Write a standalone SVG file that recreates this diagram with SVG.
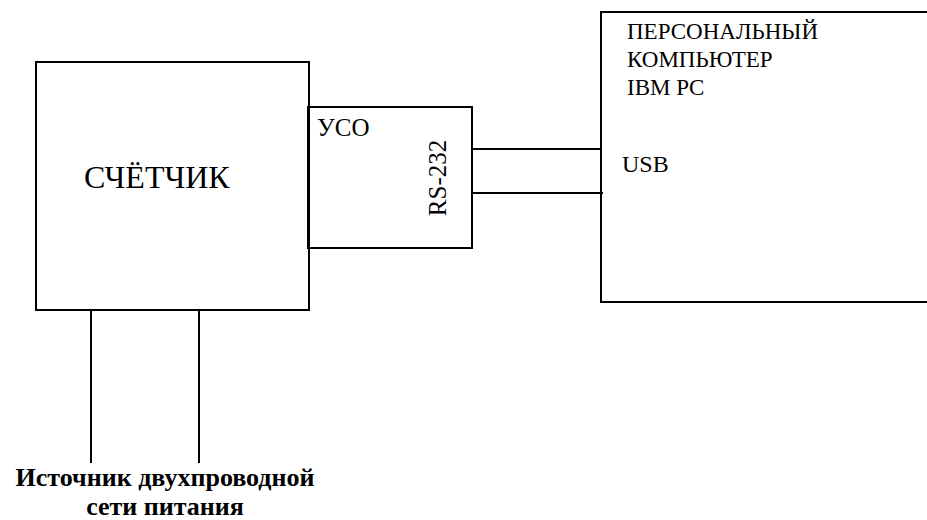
<svg xmlns="http://www.w3.org/2000/svg" width="927" height="520" viewBox="0 0 927 520">
<style>
.box{fill:none;stroke:#000;stroke-width:2}
.wire{stroke:#000;stroke-width:2;fill:none}
.t{font-family:'Liberation Serif','DejaVu Serif','Times New Roman',serif;fill:#000}
.s{font-size:23px}
.b{font-size:26px;font-weight:bold;text-anchor:middle}
</style>
<rect width="927" height="520" fill="#fff"/>
<g id="counter">
<rect class="box" x="36" y="62" width="273" height="248"/>
<text class="t" x="84" y="188" font-size="32">СЧЁТЧИК</text>
</g>
<g id="uso">
<rect class="box" x="308" y="107" width="164" height="141"/>
<text class="t" x="317" y="136" font-size="25">УСО</text>
<text class="t" transform="translate(446,178) rotate(-90)" text-anchor="middle" font-size="25">RS-232</text>
</g>
<g id="pc">
<rect class="box" x="601" y="12" width="340" height="290"/>
<text class="t s" x="627" y="39">ПЕРСОНАЛЬНЫЙ</text>
<text class="t s" x="627" y="67">КОМПЬЮТЕР</text>
<text class="t s" x="627" y="95">IBM PC</text>
<text class="t" x="622" y="172" font-size="24">USB</text>
</g>
<g id="power">
<text class="t b" x="165" y="486">Источник двухпроводной</text>
<text class="t b" x="165" y="515">сети питания</text>
</g>
<g id="connectors">
<line class="wire" x1="471" y1="149" x2="601" y2="149"/>
<line class="wire" x1="472" y1="193" x2="603" y2="193"/>
<line class="wire" x1="91" y1="310" x2="91" y2="463"/>
<line class="wire" x1="199" y1="310" x2="199" y2="463"/>
</g>
</svg>
